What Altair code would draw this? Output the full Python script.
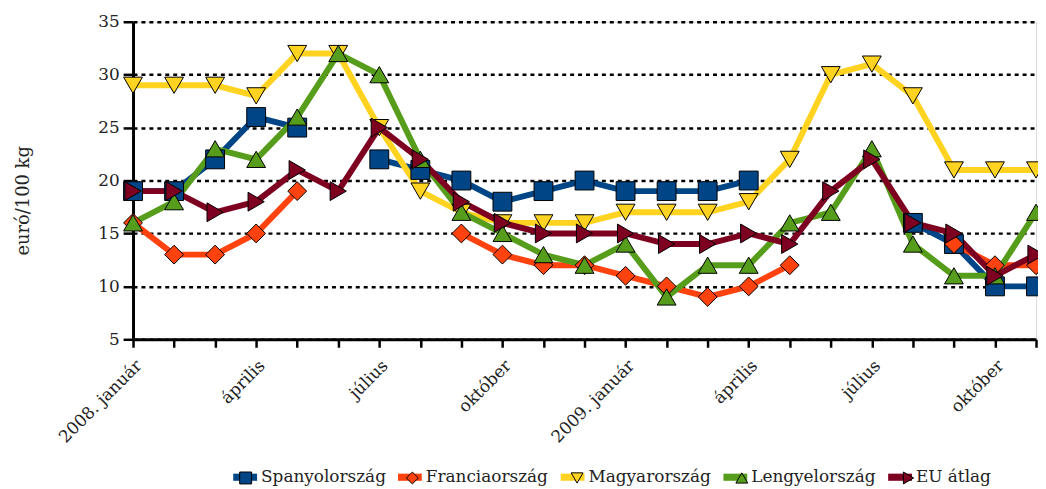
import altair as alt
import pandas as pd

# ---- data ----
months = list(range(23))  # 2008 Jan .. 2009 Nov
tick_labels = ["2008. január", "április", "július", "október",
               "2009. január", "április", "július", "október"]
series = ["Spanyolország", "Franciaország", "Magyarország", "Lengyelország", "EU átlag"]
colors = ["#004586", "#ff420e", "#ffd320", "#579d1c", "#7e0021"]

spain   = [19, 19, 22, 26, 25, None, 22, 21, 20, 18, 19, 20, 19, 19, 19, 20, None, None, None, 16, 14, 10, 10]
france  = [16, 13, 13, 15, 19, None, None, None, 15, 13, 12, 12, 11, 10, 9, 10, 12, None, None, None, 14, 12, 12]
hungary = [29, 29, 29, 28, 32, 32, 25, 19, 17, 16, 16, 16, 17, 17, 17, 18, 22, 30, 31, 28, 21, 21, 21]
poland  = [16, 18, 23, 22, 26, 32, 30, 22, 17, 15, 13, 12, 14, 9, 12, 12, 16, 17, 23, 14, 11, 11, 17]
eu      = [19, 19, 17, 18, 21, 19, 25, 22, 18, 16, 15, 15, 15, 14, 14, 15, 14, 19, 22, 16, 15, 11, 13]

# marker shapes (unit paths); the trailing moveTo's only widen the symbol bounds so
# that the marker legend lays out exactly like the bar legend drawn beneath it
pad = "M-0.9167,0M0.9167,0"
shapes = [
    "M-0.5,-0.5H0.5V0.5H-0.5Z" + pad,
    "M0,-0.5L0.5,0L0,0.5L-0.5,0Z" + pad,
    "M-0.5,-0.43L0.5,-0.43L0,0.43Z" + pad,
    "M-0.5,0.43L0.5,0.43L0,-0.43Z" + pad,
    "M-0.43,-0.5L0.43,0L-0.43,0.5Z" + pad,
]
bar_shape = "M-1,-0.3H1V0.3H-1Z"

rows = []
for name, vals in zip(series, [spain, france, hungary, poland, eu]):
    for m, v in zip(months, vals):
        rows.append({"month": m, "series": name, "value": v})
df = pd.DataFrame(rows)

FONT = "DejaVu Serif"
TXT = "#222222"
label_expr = ("datum.value % 3 == 0 ? [" + ",".join("'" + t + "'" for t in tick_labels)
              + "][datum.value / 3] : ''")

x = alt.X("month:Q",
          scale=alt.Scale(domain=[0, 22], nice=False, zero=False),
          axis=alt.Axis(values=months, labelExpr=label_expr, grid=False, title=None,
                        labelAngle=315, labelFont=FONT, labelFontSize=17, labelColor=TXT,
                        labelPadding=10, tickSize=8, tickWidth=2.5, tickColor="black",
                        domainColor="black", domainWidth=3, labelOverlap=False))
y = alt.Y("value:Q",
          scale=alt.Scale(domain=[5, 35], nice=False, zero=False),
          axis=alt.Axis(values=[5, 10, 15, 20, 25, 30, 35], grid=True, gridColor="black",
                        gridDash=[4, 4], gridWidth=2.5, title="euró/100 kg",
                        titleFont=FONT, titleFontSize=18, titleFontWeight="normal",
                        titleColor=TXT, titleX=-105, titleY=180, titleBaseline="alphabetic",
                        labelFont=FONT, labelFontSize=17, labelColor=TXT, labelPadding=4,
                        tickSize=10, tickWidth=2.5, tickColor="black",
                        domainColor="black", domainWidth=3))

color_scale = alt.Scale(domain=series, range=colors)
shape_scale = alt.Scale(domain=series, range=shapes)

legend_common = dict(orient="none", legendX=101, legendY=447, direction="horizontal",
                     title=None, labelFont=FONT, labelFontSize=17, labelColor=TXT,
                     symbolSize=576, labelOffset=4, columnPadding=12, padding=0)

lines = alt.Chart(df).mark_line(strokeWidth=6, invalid="break-paths-filter-domains").encode(
    x=x, y=y,
    color=alt.Color("series:N", scale=color_scale, legend=None),
    detail="series:N",
)

# legend-only layer: coloured bars (no data rows are drawn, the scale domain keeps the entries)
legend_bars = alt.Chart(df).transform_filter("datum.value > 1000").mark_point(
    filled=True, opacity=1, size=576, shape=bar_shape, strokeWidth=0).encode(
    x=x, y=y,
    color=alt.Color("series:N", scale=color_scale,
                    legend=alt.Legend(symbolStrokeWidth=0, **legend_common)),
)

marker_legend = dict(symbolStrokeColor="black", symbolStrokeWidth=1, labelOpacity=0, **legend_common)
points = alt.Chart(df).mark_point(filled=True, opacity=1, size=1444, stroke="black",
                                  strokeWidth=1, invalid="filter").encode(
    x=x, y=y,
    color=alt.Color("series:N", scale=color_scale, legend=alt.Legend(**marker_legend)),
    shape=alt.Shape("series:N", scale=shape_scale, legend=alt.Legend(**marker_legend)),
)

chart = alt.layer(lines, legend_bars, points).resolve_legend(
    color="independent", shape="independent").properties(
    width=910, height=320,
    autosize=alt.AutoSizeParams(type="none"),
    padding={"left": 126, "top": 12, "right": 2, "bottom": 150},
).configure_view(stroke=None).configure(background="white")

chart.save("out.html", embed_options={"renderer": "svg", "actions": False})
